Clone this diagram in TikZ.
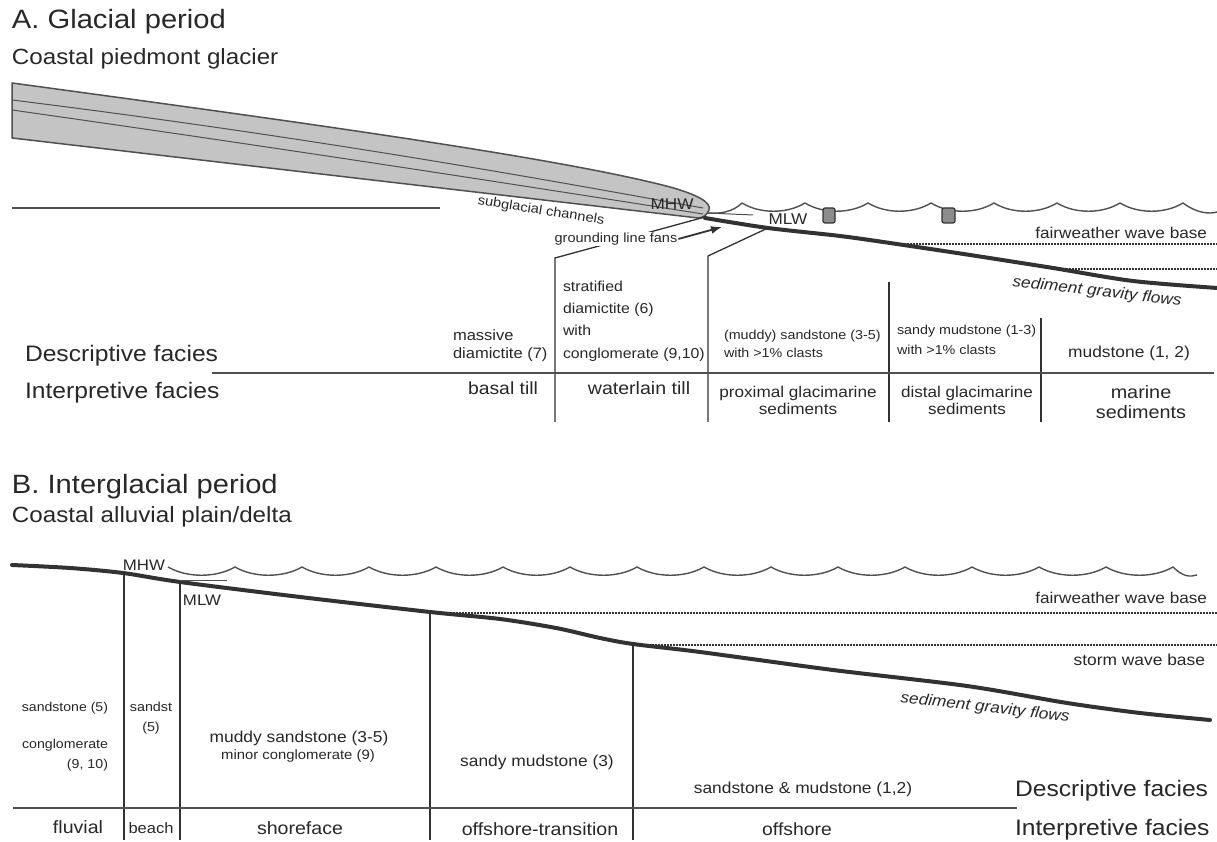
\documentclass[tikz,border=0pt]{standalone}
\usepackage{fontspec}
\setmainfont{Liberation Sans}[FakeStretch=1.1]
\usetikzlibrary{arrows.meta}

\newcommand{\fsz}[2]{\fontsize{#1}{#2}\selectfont}

\definecolor{drawColor}{RGB}{50,50,50}
\definecolor{textColor}{RGB}{40,40,40}
\definecolor{lineColor}{RGB}{80,80,80}
\definecolor{iceColor}{RGB}{196,196,196}
\definecolor{blockColor}{RGB}{140,140,140}

\tikzset{
  lab/.style={text=textColor,inner sep=0pt,outer sep=0pt},
  floorLine/.style={draw=drawColor,line width=4pt,line join=round,line cap=round},
  zoneLine/.style={draw=drawColor,line width=1.3pt},
  faciesLine/.style={draw=lineColor,line width=2pt},
  waveLine/.style={draw=lineColor,line width=1.4pt,line join=round},
  baseLine/.style={draw=drawColor,line width=2.6pt,dash pattern=on 1.6pt off 1.4pt},
  thinLine/.style={draw=lineColor,line width=1pt},
  floatBlock/.style={draw=drawColor,fill=blockColor,line width=1.2pt,rounded corners=2pt}
}

\begin{document}
\begin{tikzpicture}[x=1pt,y=1pt]
\path[use as bounding box,fill=white] (0,0) rectangle (1217,842);

% ---- A. glacial period ----
\node[lab,anchor=base west,font=\fsz{26.5}{30}] (titleA) at (12,813) {A. Glacial period};
\node[lab,anchor=base west,font=\fsz{22}{26}] (subA) at (12,777.5) {Coastal piedmont glacier};

% glacier body and flow lines
\path[draw=lineColor,line width=1.5pt,fill=iceColor,line join=round] (12,759) .. controls (300,720) and (560,684) .. (670,655) .. controls (695,648) and (712,640) .. (709,632) .. controls (707,627) and (703,624) .. (698,624) -- (12,704) -- cycle;
\path[thinLine] (12,742) .. controls (350,700) and (600,652) .. (703,634);
\path[thinLine] (12,732) .. controls (350,684) and (600,644) .. (703,628);

\path[draw=lineColor,line width=2pt] (12,634) -- (440,634);

% sea surface
\path[waveLine] (708,629) .. controls (720,628) and (733,630) .. (742,639)
  \foreach \c in {742,805,...,1120} { .. controls (\c+18,628) and (\c+45,628) .. (\c+63,639) }
  .. controls (1198,628) and (1210,628) .. (1217,630);
\path[floatBlock] (823,619) rectangle (835,634);
\path[floatBlock] (942,619) rectangle (955,634);
\path[thinLine] (707,629) -- (753,627);

% sea floor and wave bases
\path[floorLine] plot[smooth] coordinates {(705,624) (768,614) (840,606) (890,599) (970,587) (1053,574) (1133,561) (1217,554)};
\path[baseLine] (895,598) -- (1217,598);
\path[baseLine] (1057,573) -- (1217,573);

% facies boundaries
\path[zoneLine] (555,420) -- (555,584) -- (705,625);
\path[zoneLine] (708,420) -- (708,586) -- (768,614);
\path[zoneLine] (889,420) -- (889,560);
\path[zoneLine] (1041,420) -- (1041,524);
\path[faciesLine] (212,469) -- (1214,469);

\node[lab,font=\fsz{13.3}{16},rotate=-9] (channels) at (541,631) {subglacial channels};
\node[lab,font=\fsz{15.6}{18}] (mhwA) at (672,638) {MHW};
\node[lab,font=\fsz{15.6}{18}] (mlwA) at (788,623) {MLW};
\node[lab,font=\fsz{13.2}{16},fill=white,inner sep=1pt] (fans) at (616,603) {grounding line fans};
\coordinate (fanTip) at (722,615);
\draw[draw=drawColor,line width=1.8pt,-{Latex[length=11pt,width=8pt]}] (fans.east) -- (fanTip);

\node[lab,anchor=east,font=\fsz{15.6}{18}] (fairA) at (1207,609) {fairweather wave base};
\node[lab,font=\itshape\fsz{15.7}{18},rotate=-6.5] (gravA) at (1097,550) {sediment gravity flows};

\node[lab,anchor=base west,font=\fsz{22.4}{26}] (descA) at (25,480) {Descriptive facies};
\node[lab,anchor=base west,font=\fsz{22.4}{26}] (interpA) at (25,443) {Interpretive facies};

\node[lab,anchor=west,align=left,font=\fsz{15}{18}] (massive) at (453,496) {massive\\diamictite (7)};
\node[lab,font=\fsz{17.6}{20}] (basal) at (503,454) {basal till};
\node[lab,anchor=west,align=left,font=\fsz{14.4}{22.3}] (stratified) at (563,521) {stratified\\diamictite (6)\\with\\conglomerate (9,10)};
\node[lab,font=\fsz{17.8}{20}] (waterlain) at (639,454) {waterlain till};
\node[lab,anchor=west,align=left,font=\fsz{13}{18}] (muddyA) at (724,498) {(muddy) sandstone (3-5)\\with >1\% clasts};
\node[lab,align=center,font=\fsz{15.6}{17}] (proximal) at (798,442) {proximal glacimarine\\sediments};
\node[lab,anchor=west,align=left,font=\fsz{13}{20}] (sandyA) at (897,502) {sandy mudstone (1-3)\\with >1\% clasts};
\node[lab,align=center,font=\fsz{15.5}{17}] (distal) at (967,442) {distal glacimarine\\sediments};
\node[lab,font=\fsz{15.8}{18}] (mudA) at (1129,489) {mudstone (1, 2)};
\node[lab,align=center,font=\fsz{18}{19.5}] (marine) at (1141,440) {marine\\sediments};

% ---- B. interglacial period ----
\node[lab,anchor=base west,font=\fsz{26.5}{30}] (titleB) at (12,348) {B. Interglacial period};
\node[lab,anchor=base west,font=\fsz{22}{26}] (subB) at (12,319) {Coastal alluvial plain/delta};

\path[waveLine] (168,275)
  \foreach \c in {168,235,...,1106} { .. controls (\c+19,264) and (\c+48,264) .. (\c+67,275) }
  .. controls (1183,265) and (1190,265) .. (1197,267);

\path[floorLine] plot[smooth] coordinates {(12,277) (70,274) (123,269) (180,260) (300,245) (430,230) (500,223) (556,214) (600,204) (633,198) (700,190) (833,172) (967,156) (1067,139) (1140,129) (1210,122)};
\path[thinLine] (180,261) -- (227,261);
\path[baseLine] (447,229) -- (1217,229);
\path[baseLine] (634,197) -- (1217,197);

\path[zoneLine] (124,269) -- (124,2);
\path[zoneLine] (180,260) -- (180,2);
\path[zoneLine] (430,230) -- (430,2);
\path[zoneLine] (633,198) -- (633,2);
\path[faciesLine] (13,34) -- (1017,34);

\node[lab,font=\fsz{15.3}{18}] (mhwB) at (144,277) {MHW};
\node[lab,font=\fsz{15.3}{18}] (mlwB) at (202,242) {MLW};
\node[lab,anchor=east,font=\fsz{15.6}{18}] (fairB) at (1207,244) {fairweather wave base};
\node[lab,anchor=east,font=\fsz{15.8}{18}] (storm) at (1205,182) {storm wave base};
\node[lab,font=\itshape\fsz{15.7}{18},rotate=-6.5] (gravB) at (985,134) {sediment gravity flows};

\node[lab,anchor=east,font=\fsz{12.8}{16}] (sandFl) at (108,134) {sandstone (5)};
\node[lab,anchor=east,align=right,font=\fsz{12.9}{20}] (conglFl) at (108,87) {conglomerate\\(9, 10)};
\node[lab,align=center,font=\fsz{13}{20}] (sandBeach) at (151,124) {sandst\\(5)};
\node[lab,font=\fsz{15.8}{18}] (muddyB) at (299,104) {muddy sandstone (3-5)};
\node[lab,font=\fsz{13.5}{16}] (minor) at (298,86) {minor conglomerate (9)};
\node[lab,font=\fsz{15.8}{18}] (sandyB) at (537,80) {sandy mudstone (3)};
\node[lab,font=\fsz{15.8}{18}] (sandMud) at (803,53) {sandstone \& mudstone (1,2)};
\node[lab,anchor=base west,font=\fsz{22.4}{26}] (descB) at (1015,45) {Descriptive facies};
\node[lab,anchor=base west,font=\fsz{22.4}{26}] (interpB) at (1015,6) {Interpretive facies};

\node[lab,font=\fsz{17.8}{20}] (fluvial) at (78,15) {fluvial};
\node[lab,font=\fsz{15}{18}] (beach) at (151,14) {beach};
\node[lab,font=\fsz{17.8}{20}] (shoreface) at (300,14) {shoreface};
\node[lab,font=\fsz{17.8}{20}] (transition) at (540,13) {offshore-transition};
\node[lab,font=\fsz{17.6}{20}] (offshore) at (797,13) {offshore};
\end{tikzpicture}
\end{document}
